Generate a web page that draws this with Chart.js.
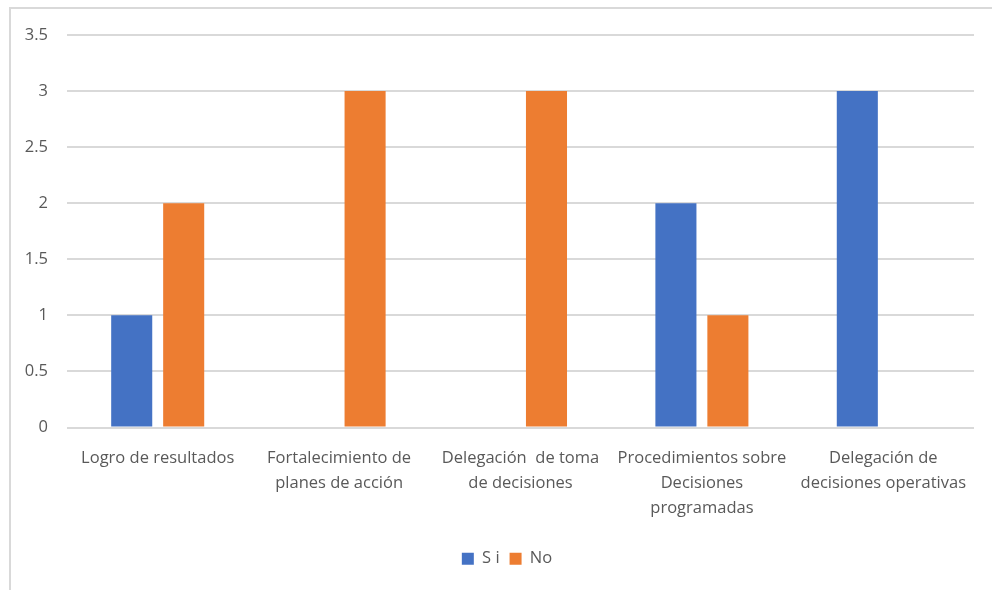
<!DOCTYPE html>
<html lang="es">
<head>
  <meta charset="UTF-8">
  <title>Gráfico de barras</title>
  <script src="https://cdn.jsdelivr.net/npm/chart.js"></script>
  <style>
    body {
      margin: 0;
      background: #fff;
    }
    #wrap {
      position: relative;
      width: 992px;
      height: 590px;
    }
    #marco {
      position: absolute;
      left: 9px;
      top: 7px;
      right: -4px;
      bottom: -4px;
      border-left: 2px solid #d9d9d9;
      border-top: 2px solid #d9d9d9;
      pointer-events: none;
    }
  </style>
</head>
<body>

<div id="wrap">
  <canvas id="grafico" width="992" height="590"></canvas>
  <div id="marco"></div>
</div>

<script>
const categorias = [
  ["Logro de resultados"],
  ["Fortalecimiento de", "planes de acción"],
  ["Delegación  de toma", "de decisiones"],
  ["Procedimientos sobre", "Decisiones", "programadas"],
  ["Delegación de", "decisiones operativas"]
];
const valoresSi = [1, 0, 0, 2, 3];
const valoresNo = [2, 3, 3, 1, 0];

const fuente = { family: "'Open Sans', sans-serif", size: 16.5 };
const colorTexto = '#595959';
const colorRejilla = '#d9d9d9';

// corre la leyenda un poco a la derecha y abajo, centrada sobre el área de barras
const moverLeyenda = {
  id: 'moverLeyenda',
  afterLayout(chart) {
    const ley = chart.legend;
    ley.left += 20;
    ley.right += 20;
    ley.top += 2;
    ley.bottom += 2;
  }
};

const ctx = document.getElementById('grafico').getContext('2d');
new Chart(ctx, {
  type: 'bar',
  data: {
    labels: categorias,
    datasets: [
      {
        label: 'S i',
        data: valoresSi,
        backgroundColor: '#4472c4',
        barPercentage: 0.79,
        categoryPercentage: 0.573
      },
      {
        label: 'No',
        data: valoresNo,
        backgroundColor: '#ed7d31',
        barPercentage: 0.79,
        categoryPercentage: 0.573
      }
    ]
  },
  options: {
    responsive: false,
    animation: false,
    layout: {
      padding: { top: 35, right: 18, left: 0, bottom: 15 }
    },
    plugins: {
      tooltip: { enabled: false },
      legend: {
        position: 'bottom',
        labels: {
          color: colorTexto,
          font: fuente,
          boxWidth: 12,
          boxHeight: 12,
          padding: 10
        }
      }
    },
    scales: {
      x: {
        grid: { display: false, drawTicks: false },
        border: { display: false },
        ticks: {
          color: colorTexto,
          font: { ...fuente, lineHeight: '25px' },
          maxRotation: 0,
          autoSkip: false,
          padding: 18
        }
      },
      y: {
        min: 0,
        max: 3.5,
        afterFit: (eje) => { eje.width = 67; },
        grid: {
          color: colorRejilla,
          lineWidth: 2,
          drawTicks: false
        },
        border: { display: false },
        ticks: {
          stepSize: 0.5,
          color: colorTexto,
          font: fuente,
          padding: 19,
          callback: (v) => String(v)
        }
      }
    }
  },
  plugins: [moverLeyenda]
});
</script>

</body>
</html>
